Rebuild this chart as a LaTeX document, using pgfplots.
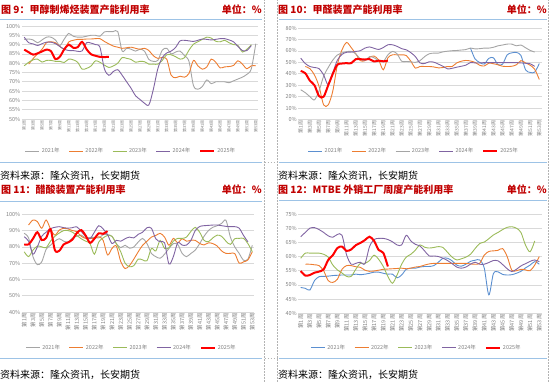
\documentclass[border=0pt]{standalone}
\usepackage{pgfplots}
\pgfplotsset{compat=1.18}
\usepackage{fontspec}
\setmainfont{Noto Sans CJK SC}
\definecolor{cGray}{HTML}{A5A5A5}
\definecolor{cOrange}{HTML}{ED7D31}
\definecolor{cGreen}{HTML}{9BBB59}
\definecolor{cPurple}{HTML}{8064A2}
\definecolor{cBlue}{HTML}{5B8FD0}
\definecolor{cRed}{HTML}{FF0000}
\definecolor{cTitle}{HTML}{C00000}
\definecolor{cSep}{HTML}{9DC3E6}
\definecolor{cGrid}{HTML}{D9D9D9}
\definecolor{cTick}{HTML}{808080}
\pgfplotsset{
  panel/.style={
    scale only axis, xmin=0.5, xmax=53.5,
    axis line style={draw=none}, tick style={draw=none},
    ymajorgrids, major grid style={draw=cGrid, line width=0.7pt},
    xtick={1,3,...,53},
    xticklabels={第1周,第3周,第5周,第7周,第9周,第11周,第13周,第15周,第17周,第19周,第21周,第23周,第25周,第27周,第29周,第31周,第33周,第35周,第37周,第39周,第41周,第43周,第45周,第47周,第49周,第51周,第53周},
    x tick label style={rotate=90, anchor=east, text=cTick, inner sep=1pt},
    yticklabel={\pgfmathprintnumber[assume math mode=true]{\tick}\%},
    y tick label style={font=\fontsize{5.5}{6}\selectfont, text=cTick, inner sep=1.5pt},
    legend columns=5,
    legend style={draw=none, fill=none, font=\fontsize{5.5}{6}\selectfont, text=cTick, anchor=center,
      /tikz/every even column/.append style={column sep=7pt}, inner sep=0pt},
    legend image code/.code={\draw[#1] (0pt,0pt) -- (14pt,0pt);},
    every axis plot/.append style={smooth, tension=0.5, line width=0.9pt, mark=none},
    clip=false,
  },
  thick red/.style={cRed, line width=2pt},
}
\begin{document}
\begin{tikzpicture}
\useasboundingbox (0,0) rectangle (550pt,382pt);
% frames
\draw[cTick!60, dash pattern=on 1.5pt off 1.5pt, line width=0.5pt] (264.5pt,0pt) -- (264.5pt,382pt);
\draw[cTick!60, dash pattern=on 1.5pt off 1.5pt, line width=0.5pt] (277.5pt,0pt) -- (277.5pt,382pt);
\draw[cTick!60, dash pattern=on 1.5pt off 1.5pt, line width=0.5pt] (548.5pt,0pt) -- (548.5pt,382pt);
\draw[cTick!60, dash pattern=on 1.5pt off 1.5pt, line width=0.5pt] (264.5pt,220pt) -- (277.5pt,220pt);
\draw[cTick!60, dash pattern=on 1.5pt off 1.5pt, line width=0.5pt] (264.5pt,24pt) -- (277.5pt,24pt);
\draw[cSep, line width=0.7pt] (0pt,363pt) -- (262pt,363pt);
\draw[cSep, line width=0.7pt] (0pt,220pt) -- (262pt,220pt);
\draw[cSep, line width=0.7pt] (279pt,363pt) -- (547pt,363pt);
\draw[cSep, line width=0.7pt] (279pt,220pt) -- (547pt,220pt);
\draw[cSep, line width=0.7pt] (0pt,181pt) -- (262pt,181pt);
\draw[cSep, line width=0.7pt] (0pt,24pt) -- (262pt,24pt);
\draw[cSep, line width=0.7pt] (279pt,182pt) -- (547pt,182pt);
\draw[cSep, line width=0.7pt] (279pt,24pt) -- (547pt,24pt);
% titles
\node[anchor=west, inner sep=0pt, text=cTitle, font=\fontsize{10}{11}\selectfont\bfseries] at (1pt,372.5pt) {图 9：甲醇制烯烃装置产能利用率};
\node[anchor=east, inner sep=0pt, text=cTitle, font=\fontsize{10}{11}\selectfont\bfseries] at (262pt,372.5pt) {单位：\%};
\node[anchor=west, inner sep=0pt, text=cTitle, font=\fontsize{10}{11}\selectfont\bfseries] at (278pt,372.5pt) {图 10：甲醛装置产能利用率};
\node[anchor=east, inner sep=0pt, text=cTitle, font=\fontsize{10}{11}\selectfont\bfseries] at (547pt,372.5pt) {单位：\%};
\node[anchor=west, inner sep=0pt, text=cTitle, font=\fontsize{10}{11}\selectfont\bfseries] at (1pt,192pt) {图 11：醋酸装置产能利用率};
\node[anchor=east, inner sep=0pt, text=cTitle, font=\fontsize{10}{11}\selectfont\bfseries] at (262pt,192pt) {单位：\%};
\node[anchor=west, inner sep=0pt, text=cTitle, font=\fontsize{10}{11}\selectfont\bfseries] at (278pt,192pt) {图 12：MTBE 外销工厂周度产能利用率};
\node[anchor=east, inner sep=0pt, text=cTitle, font=\fontsize{10}{11}\selectfont\bfseries] at (547pt,192pt) {单位：\%};
% sources
\node[anchor=west, inner sep=0pt, font=\fontsize{10}{11}\selectfont] at (0pt,206pt) {资料来源：隆众资讯，长安期货};
\node[anchor=west, inner sep=0pt, font=\fontsize{10}{11}\selectfont] at (278pt,206pt) {资料来源：隆众资讯，长安期货};
\node[anchor=west, inner sep=0pt, font=\fontsize{10}{11}\selectfont] at (0pt,7pt) {资料来源：隆众资讯，长安期货};
\node[anchor=west, inner sep=0pt, font=\fontsize{10}{11}\selectfont] at (278pt,7pt) {资料来源：隆众资讯，长安期货};

% ---------------- Panel 1
\begin{axis}[panel, at={(22pt,263pt)}, anchor=south west, width=236pt, height=93pt,
  ymin=50, ymax=100, ytick={50,55,...,100},
  x tick label style={font=\fontsize{4}{4}\selectfont},
  legend style={at={(0.462,-0.344)}}]
\addplot[cGray] coordinates {(1,92.8)(2,93)(3,92.5)(4,91)(5,92.5)(6,94)(7,94)(8,92.5)(9,89.5)(10,93)(11,96)(12,94.5)(13,94)(14,94)(15,94.5)(16,95)(17,95)(18,94.5)(19,96.8)(20,97)(21,97)(22,97)(23,86.5)(24,88)(25,87.5)(26,86.5)(27,87.5)(28,86.5)(29,82)(30,81)(31,81.5)(32,87)(33,88)(34,85)(35,86)(36,86.5)(37,84)(38,81)(39,68)(40,66)(41,67.5)(42,71)(43,69)(44,70)(45,70)(46,70)(47,69.5)(48,70.5)(49,71.5)(50,72.5)(51,74)(52,77)(53,90.5)};
\addplot[cOrange] coordinates {(2,79.5)(3,82.5)(4,85)(5,87.5)(6,91)(7,91.5)(8,91)(9,89)(10,87.7)(11,91.4)(12,92.3)(13,92.8)(14,92.8)(15,93)(16,93)(17,93.2)(18,93.2)(19,91.7)(20,90.4)(21,89.2)(22,88.6)(23,88)(24,88.3)(25,88.6)(26,88)(27,87.5)(28,88)(29,86.8)(30,84)(31,82.6)(32,83.1)(33,82.2)(34,73.5)(35,72.2)(36,73)(37,72.5)(38,74.5)(39,81.5)(40,78.6)(41,76.8)(42,78)(43,82.2)(44,80.5)(45,77.5)(46,78)(47,78.2)(48,78.8)(49,81.3)(50,79.5)(51,77)(52,78.6)(53,78.6)};
\addplot[cGreen] coordinates {(1,78.6)(2,80.5)(3,81.8)(4,82.2)(5,80.6)(6,81.5)(7,81.5)(8,81)(9,81)(10,80.4)(11,82.2)(12,81.8)(13,80.5)(14,76.8)(15,77.2)(16,78.5)(17,81.3)(18,80.5)(19,79)(20,77.7)(21,78.5)(22,80)(23,83)(24,82.6)(25,82)(26,80.5)(27,81)(28,80.8)(29,79.5)(30,79.5)(31,79.5)(32,81.5)(33,84.5)(34,84.5)(35,83.5)(36,82.2)(37,83)(38,87)(39,90.2)(40,91.5)(41,92.8)(42,94)(43,93.5)(44,91.8)(45,91.5)(46,92.3)(47,91)(48,90)(49,89.5)(50,86)(51,87.5)(52,89.9)};
\addplot[cPurple] coordinates {(1,94)(2,91)(3,90.4)(4,89.5)(5,90.5)(6,91.3)(7,91.3)(8,90.5)(9,89)(10,87.5)(11,86.8)(12,86.8)(13,86.4)(14,86.6)(15,91)(16,90.8)(17,90)(18,88.6)(19,77)(20,73.5)(21,75.5)(22,76.5)(23,73.5)(24,70)(25,66.5)(26,62.5)(27,60.5)(28,58.5)(29,57.6)(30,66)(31,77)(32,83)(33,85.5)(34,86.5)(35,88.5)(36,92)(37,92.3)(38,92)(39,91.7)(40,92.3)(41,93)(42,92.8)(43,92.5)(44,92.8)(45,93.2)(46,93.2)(47,92.5)(48,91.5)(49,89)(50,86.8)(51,86.8)(52,89.5)};
\addplot[thick red] coordinates {(1,87.3)(2,85.9)(3,84.6)(4,85.3)(5,86.3)(6,87.3)(7,86.5)(8,82.2)(9,83.5)(10,87.5)(11,90)(12,88.3)(13,88.6)(14,91.5)(15,87.5)(16,84.8)(17,84)(18,83.4)(19,83.3)(20,83.4)};
\legend{2021年,2022年,2023年,2024年,2025年}
\end{axis}

% ---------------- Panel 2
\begin{axis}[panel, at={(298.4pt,262.5pt)}, anchor=south west, width=243.2pt, height=91.4pt,
  ymin=0, ymax=80, ytick={0,10,...,80},
  x tick label style={font=\fontsize{5}{5}\selectfont},
  legend style={at={(0.475,-0.345)}}]
\addplot[cBlue] coordinates {(38,62.5)(39,53)(40,50)(41,48.5)(42,53.5)(43,54)(44,48)(45,48.5)(46,56.6)(47,58.3)(48,58.7)(49,56)(50,43.5)(51,41.2)(52,41.5)(53,49)};
\addplot[cOrange] coordinates {(2,46.4)(3,44.5)(4,39)(5,29)(6,12.8)(7,12.8)(8,25)(9,48)(10,61)(11,67.4)(12,63)(13,57.5)(14,51.5)(15,51.5)(16,54.5)(17,55.5)(18,52)(19,43.5)(20,54)(21,56.6)(22,56.6)(23,56.6)(24,56)(25,51)(26,45)(27,46.4)(28,46.4)(29,46.4)(30,46)(31,45.2)(32,45.5)(33,46.4)(34,46.4)(35,49.5)(36,51)(37,51.7)(38,51.2)(39,50)(40,47.5)(41,46.8)(42,49.3)(43,48.8)(44,47.9)(45,46.6)(46,46.4)(47,46.6)(48,47.9)(49,51.5)(50,49.5)(51,47.5)(52,44)(53,35)};
\addplot[cGray] coordinates {(1,26)(2,23.5)(3,20)(4,17.2)(5,25)(6,38)(7,45.5)(8,52)(9,56.5)(10,58.2)(11,59.4)(12,59.6)(13,57.5)(14,53)(15,51.5)(16,55)(17,54)(18,51.5)(19,50.8)(20,56.5)(21,59.6)(22,57.5)(23,51)(24,50.8)(25,50.5)(26,50)(27,51.5)(28,55)(29,57.5)(30,58.1)(31,58.1)(32,59.2)(33,59.8)(34,60.2)(35,60.4)(36,60.8)(37,61.2)(38,62.5)(39,61.8)(40,62)(41,62.5)(42,62.5)(43,63.2)(44,64.5)(45,65.2)(46,66)(47,66)(48,64.5)(49,65.2)(50,62.8)(51,60.5)(52,59)};
\addplot[cPurple] coordinates {(1,53.7)(2,49)(3,46.4)(4,45.5)(5,44.5)(6,39)(7,30.4)(8,41)(9,52)(10,57)(11,58.8)(12,59)(13,59.6)(14,60.2)(15,62.5)(16,63.5)(17,62.3)(18,61.3)(19,63)(20,65.4)(21,65.4)(22,64)(23,62)(24,61)(25,58.5)(26,55)(27,49.5)(28,49)(29,50.5)(30,50.2)(31,48.5)(32,46.6)(33,44.3)(34,44.8)(35,45.8)(36,46.6)(37,47.6)(38,49.8)(39,49.5)(40,49.5)(41,49.8)(42,49.8)(43,49.8)(44,49.8)(45,49.8)(46,49.8)(47,49.8)(48,49.8)(49,49.5)(50,49.2)(51,48.8)(52,46.5)};
\addplot[thick red] coordinates {(1,42.5)(2,40.5)(3,34)(4,30)(5,20.5)(6,20)(7,30)(8,40)(9,48)(10,49)(11,49.3)(12,49.3)(13,52.8)(14,52.8)(15,52.5)(16,52.8)(17,50.8)(18,51.5)(19,50.9)(20,51.5)};
\legend{2021年,2022年,2023年,2024年,2025年}
\end{axis}

% ---------------- Panel 3
\begin{axis}[panel, at={(22pt,70pt)}, anchor=south west, width=232.5pt, height=97.7pt,
  ymin=40, ymax=100, ytick={40,50,...,100},
  x tick label style={font=\fontsize{5.5}{5.5}\selectfont},
  legend style={at={(0.471,-0.365)}}]
\addplot[cGray] coordinates {(1,88.3)(2,85.5)(3,74)(4,69.1)(5,70.8)(6,78.5)(7,81)(8,83.5)(9,85)(10,83.5)(11,83)(12,85.5)(13,86.5)(14,87.2)(15,85.5)(16,85.8)(17,85.8)(18,85.5)(19,87.5)(20,87.5)(21,86.5)(22,82)(23,79.5)(24,81)(25,79.2)(26,80)(27,83)(28,85.2)(29,82)(30,76)(31,74)(32,73)(33,75.5)(34,79)(35,82)(36,81.5)(37,76)(38,74)(39,76)(40,78)(41,82)(42,86.5)(43,90)(44,92)(45,93)(46,94.4)(47,96.3)(48,86)(49,80)(50,76)(51,71.8)(52,72.5)(53,81)};
\addplot[cOrange] coordinates {(2,93.4)(3,96.5)(4,95.5)(5,91.4)(6,96.5)(7,91)(8,87.2)(9,90.3)(10,91.4)(11,91)(12,90)(13,89.3)(14,86.5)(15,85.2)(16,85.2)(17,85.2)(18,86.2)(19,84)(20,75)(21,79)(22,80.5)(23,71)(24,66.7)(25,68.5)(26,72.5)(27,77)(28,81)(29,83.5)(30,86)(31,87)(32,88.3)(33,86)(34,81)(35,85.2)(36,82.5)(37,85)(38,83.5)(39,84)(40,84)(41,82.1)(42,81.2)(43,82.5)(44,82)(45,80.5)(46,77.5)(47,76)(48,76)(49,75.9)(50,70)(51,70.8)(52,72)(53,77)};
\addplot[cGreen] coordinates {(1,77)(2,74)(3,78)(4,80.5)(5,80)(6,79.5)(7,83.5)(8,86.5)(9,88.5)(10,90)(11,90)(12,89)(13,87)(14,85)(15,83.5)(16,82)(17,75.5)(18,83)(19,85.5)(20,87)(21,86.5)(22,82)(23,77)(24,70)(25,67.8)(26,68.5)(27,72.5)(28,72)(29,71.5)(30,79)(31,77.5)(32,84)(33,79)(34,79.5)(35,83.5)(36,85.2)(37,85.2)(38,86)(39,89.5)(40,92)(41,89)(42,84)(43,83.2)(44,85.5)(45,87.2)(46,86.5)(47,83.5)(48,81.5)(49,85)(50,85.2)(51,85.2)(52,82)(53,77)};
\addplot[cPurple] coordinates {(1,86.2)(2,83.5)(3,75.5)(4,80)(5,86.5)(6,89)(7,91.2)(8,92)(9,92.4)(10,91.8)(11,91.5)(12,91.8)(13,92.3)(14,89.5)(15,86.5)(16,85)(17,89)(18,93)(19,91)(20,87.5)(21,82.1)(22,84)(23,83.5)(24,85)(25,86)(26,85.5)(27,87.7)(28,89)(29,91.8)(30,91.4)(31,85)(32,83.1)(33,82.5)(34,69.5)(35,74)(36,82.5)(37,81.1)(38,81.1)(39,84)(40,90)(41,92.5)(42,93)(43,93.2)(44,93.4)(45,93.4)(46,93)(47,92.6)(48,92.4)(49,92.4)(50,91.5)(51,87)(52,83.1)};
\addplot[thick red] coordinates {(1,81.5)(2,81.5)(3,85)(4,89)(5,84.2)(6,85.5)(7,90.9)(8,78)(9,77.6)(10,81.5)(11,82.7)(12,84.5)(13,88.5)(14,90.3)(15,87)(16,82.5)(17,85)(18,88.3)(19,88)(20,89.7)};
\legend{2021年,2022年,2023年,2024年,2025年}
\end{axis}

% ---------------- Panel 4
\begin{axis}[panel, at={(298.4pt,68.7pt)}, anchor=south west, width=243.2pt, height=99.3pt,
  ymin=40, ymax=75, ytick={40,45,...,75},
  x tick label style={font=\fontsize{5.5}{5.5}\selectfont},
  legend style={at={(0.486,-0.347)}}]
\addplot[cBlue] coordinates {(1,49.1)(2,48.8)(3,48.2)(4,51.5)(5,52.9)(6,53)(7,53.1)(8,53.3)(9,53.4)(10,53.5)(11,53.5)(12,53.5)(13,53.8)(14,53.6)(15,53.8)(16,54.1)(17,54.5)(18,54.5)(19,54.1)(20,53.8)(21,53.8)(22,52.5)(23,53.5)(24,55.5)(25,55.9)(26,55.9)(27,56.3)(28,56.5)(29,56.5)(30,56.8)(31,58)(32,59.4)(33,59.4)(34,58.5)(35,57)(36,56.6)(37,57.3)(38,58.3)(39,58.7)(40,58.8)(41,56)(42,46.5)(43,54)(44,54.6)(45,53.7)(46,53.5)(47,53.6)(48,54.1)(49,54.8)(50,56)(51,57)(52,58.2)(53,57.3)};
\addplot[cOrange] coordinates {(2,57.3)(3,57.3)(4,57.1)(5,56.8)(6,55)(7,51.5)(8,50.9)(9,52)(10,55.5)(11,56.8)(12,56.8)(13,56.4)(14,56.2)(15,55.2)(16,54.8)(17,54.9)(18,55.2)(19,55.5)(20,55.6)(21,55.7)(22,55.8)(23,55.9)(24,55.7)(25,55.9)(26,56.3)(27,56.5)(28,57)(29,57.4)(30,57.6)(31,57.6)(32,57.6)(33,57.6)(34,57.6)(35,57.6)(36,57.6)(37,57.6)(38,57.4)(39,57.3)(40,57.6)(41,60.5)(42,61.8)(43,62)(44,62.2)(45,62.8)(46,60)(47,55.2)(48,55)(49,55.5)(50,55.3)(51,55)(52,57)(53,60)};
\addplot[cGreen] coordinates {(1,59.4)(2,61.2)(3,61.2)(4,61.2)(5,61.2)(6,60.8)(7,59.8)(8,57)(9,55.3)(10,54.2)(11,53)(12,53)(13,55.5)(14,57.6)(15,57.6)(16,58.6)(17,60.5)(18,59)(19,56.5)(20,53)(21,50.6)(22,53.5)(23,57.3)(24,59.8)(25,60.8)(26,62.3)(27,64.1)(28,63.3)(29,63)(30,63.2)(31,63.5)(32,63.2)(33,61.5)(34,59.8)(35,58.8)(36,59.2)(37,59.8)(38,60.8)(39,62.8)(40,64.6)(41,65.1)(42,66.3)(43,67.6)(44,68.5)(45,69.5)(46,70.3)(47,70.5)(48,70)(49,68.5)(50,64)(51,61.7)(52,65.5)};
\addplot[cPurple] coordinates {(1,67)(2,68.5)(3,70)(4,70.2)(5,69.5)(6,68.5)(7,67.3)(8,66.8)(9,67.8)(10,67.5)(11,60.6)(12,57.3)(13,57.6)(14,58)(15,57.5)(16,63.5)(17,66)(18,66.4)(19,66.4)(20,66)(21,65.2)(22,64.1)(23,64.1)(24,67.5)(25,65.5)(26,64.3)(27,63.7)(28,62)(29,60.2)(30,60.2)(31,60)(32,59.4)(33,58.6)(34,57.5)(35,56.3)(36,55.9)(37,56.3)(38,57.3)(39,58)(40,57.3)(41,57.3)(42,57.9)(43,58.6)(44,58.5)(45,57.2)(46,55.7)(47,54.7)(48,55.5)(49,56.7)(50,57.5)(51,58.3)(52,58.8)(53,58.2)};
\addplot[thick red] coordinates {(1,54.9)(2,53.3)(3,53.5)(4,54.3)(5,54.7)(6,55.5)(7,58.8)(8,60.5)(9,63)(10,63.5)(11,62)(12,62.5)(13,64)(14,64.8)(15,65.8)(16,67)(17,65.5)(18,62.3)(19,61.3)(20,56.5)};
\legend{2021年,2022年,2023年,2024年,2025年}
\end{axis}
\end{tikzpicture}
\end{document}
